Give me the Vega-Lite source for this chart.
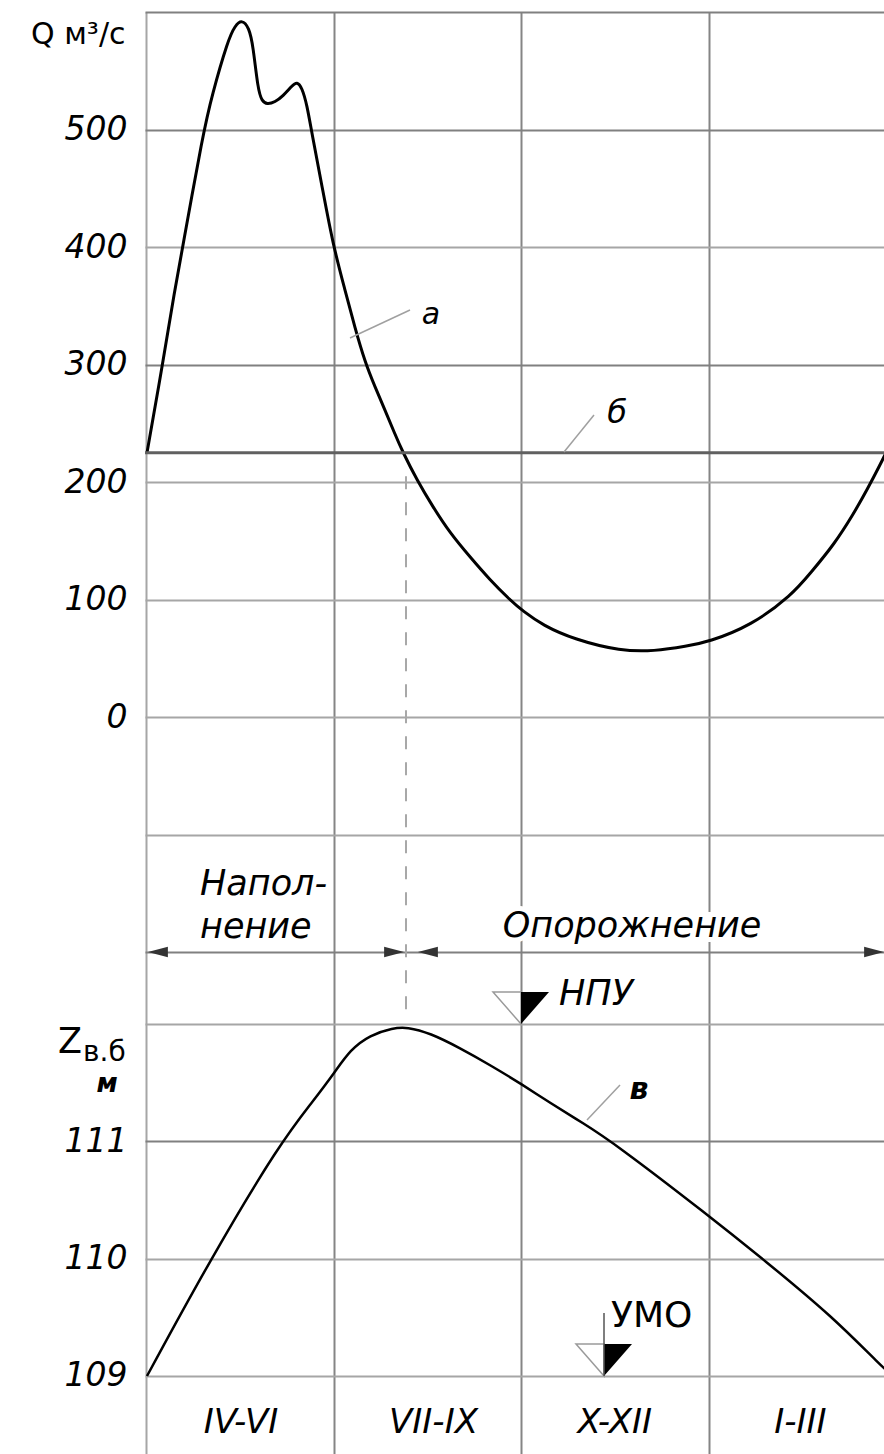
{
  "$schema": "https://vega.github.io/schema/vega-lite/v6.json",
  "width": 739,
  "height": 1442,
  "autosize": {"type": "none"},
  "padding": {"left": 145, "top": 12, "right": 0, "bottom": 0},
  "background": "white",
  "config": {
    "view": {"stroke": null},
    "font": "DejaVu Sans",
    "axis": {"labelFont": "DejaVu Sans", "titleFont": "DejaVu Sans"}
  },
  "datasets": {
    "inflow": [
      {"m": 0.016, "q": 225}, {"m": 0.272, "q": 302.1}, {"m": 0.432, "q": 354.9}, {"m": 0.592, "q": 401.7},
      {"m": 0.912, "q": 496.2}, {"m": 1.056, "q": 529.4}, {"m": 1.312, "q": 576.2}, {"m": 1.424, "q": 588.4},
      {"m": 1.536, "q": 593.6}, {"m": 1.648, "q": 586.7}, {"m": 1.712, "q": 571.9}, {"m": 1.792, "q": 533.6},
      {"m": 1.856, "q": 524.1}, {"m": 1.936, "q": 521.4}, {"m": 2.064, "q": 523.3}, {"m": 2.192, "q": 528.5},
      {"m": 2.336, "q": 537.2}, {"m": 2.416, "q": 540.9}, {"m": 2.496, "q": 535.6}, {"m": 2.576, "q": 520.9},
      {"m": 2.656, "q": 496.2}, {"m": 2.816, "q": 451.9}, {"m": 2.992, "q": 401.7}, {"m": 3.184, "q": 363.4},
      {"m": 3.344, "q": 331.1}, {"m": 3.504, "q": 302.1}, {"m": 3.664, "q": 280.9}, {"m": 3.824, "q": 261.3},
      {"m": 3.968, "q": 242.6}, {"m": 4.112, "q": 225}, {"m": 4.336, "q": 201.7}, {"m": 4.592, "q": 178.7},
      {"m": 4.864, "q": 156.6}, {"m": 5.184, "q": 136.2}, {"m": 5.504, "q": 116.6}, {"m": 5.824, "q": 99.6},
      {"m": 6.032, "q": 90.1}, {"m": 6.352, "q": 78.0}, {"m": 6.848, "q": 66.1}, {"m": 7.6, "q": 56.0},
      {"m": 8.128, "q": 56.0}, {"m": 8.656, "q": 60.3}, {"m": 8.992, "q": 63.8}, {"m": 9.68, "q": 77.7},
      {"m": 10.336, "q": 103.8}, {"m": 10.64, "q": 123.1}, {"m": 11.008, "q": 146.7}, {"m": 11.328, "q": 173.6},
      {"m": 11.536, "q": 193.2}, {"m": 11.76, "q": 216.2}, {"m": 11.84, "q": 225}
    ],
    "level": [
      {"m": 0.016, "z": 109.0}, {"m": 1.024, "z": 109.989}, {"m": 2.144, "z": 110.986}, {"m": 2.688, "z": 111.352},
      {"m": 3.024, "z": 111.591}, {"m": 3.264, "z": 111.778}, {"m": 3.584, "z": 111.906}, {"m": 3.952, "z": 111.966},
      {"m": 4.176, "z": 111.974}, {"m": 4.544, "z": 111.923}, {"m": 5.024, "z": 111.795}, {"m": 5.504, "z": 111.651},
      {"m": 6.032, "z": 111.48}, {"m": 6.464, "z": 111.327}, {"m": 6.992, "z": 111.156}, {"m": 7.488, "z": 110.986},
      {"m": 8.992, "z": 110.372}, {"m": 9.888, "z": 109.989}, {"m": 10.99, "z": 109.503}, {"m": 11.776, "z": 109.077},
      {"m": 11.952, "z": 109.0}
    ],
    "periods": [
      {"period": "IV-VI", "mid": 1.52},
      {"period": "VII-IX", "mid": 4.6},
      {"period": "X-XII", "mid": 7.5},
      {"period": "I-III", "mid": 10.47}
    ],
    "arrows": [
      {"m": 0.03, "dir": "left"},
      {"m": 4.13, "dir": "right"},
      {"m": 4.35, "dir": "left"},
      {"m": 11.81, "dir": "right"}
    ],
    "gauges": [
      {"name": "НПУ", "m": 6.0, "z": 112},
      {"name": "УМО", "m": 7.328, "z": 109}
    ],
    "one": [{}]
  },
  "layer": [
    {
      "layer": [
        {
          "data": {"name": "inflow"},
          "mark": {"type": "line", "color": "black", "strokeWidth": 3, "interpolate": "basis"},
          "encoding": {
            "x": {
              "field": "m", "type": "quantitative",
              "scale": {"domain": [-0.016, 11.808], "nice": false, "zero": false},
              "axis": {
                "orient": "bottom", "values": [0, 3, 6, 9], "grid": true, "gridWidth": 2,
                "gridColor": {"condition": {"test": "datum.value === 0", "value": "#a6a6a6"}, "value": "#858585"},
                "labels": false, "ticks": false, "domain": false, "title": null
              }
            },
            "y": {
              "field": "q", "type": "quantitative",
              "scale": {"domain": [-627.2, 600], "nice": false, "zero": false},
              "axis": {
                "orient": "left",
                "values": [-200, -100, 0, 100, 200, 300, 400, 500, 600],
                "format": "d",
                "labelExpr": "datum.value >= 0 && datum.value <= 500 ? datum.label : ''",
                "grid": true, "gridWidth": 2,
                "gridColor": {"condition": {"test": "datum.value === 600 || datum.value === 500 || datum.value === 300 || datum.value === -200", "value": "#808080"}, "value": "#a6a6a6"},
                "ticks": false, "domain": false,
                "labelPadding": 18, "labelFontSize": 33, "labelFontStyle": "italic", "labelColor": "black",
                "title": "Q м³/с", "titleAngle": 0, "titleAlign": "right", "titleBaseline": "alphabetic",
                "titleX": -20, "titleY": 31, "titleFontSize": 30, "titleFontWeight": "normal", "titleColor": "black"
              }
            }
          }
        },
        {
          "data": {"name": "one"},
          "mark": {"type": "rule", "color": "#606060", "strokeWidth": 3},
          "encoding": {
            "y": {"datum": 225, "type": "quantitative", "scale": {"domain": [-627.2, 600], "nice": false, "zero": false}}
          }
        },
        {
          "data": {"name": "one"},
          "mark": {"type": "rule", "color": "#a8a8a8", "strokeWidth": 2, "strokeDash": [13, 13]},
          "encoding": {
            "x": {"datum": 4.16, "type": "quantitative", "scale": {"domain": [-0.016, 11.808], "nice": false, "zero": false}},
            "y": {"datum": 205, "type": "quantitative", "scale": {"domain": [-627.2, 600], "nice": false, "zero": false}},
            "y2": {"datum": -253.6}
          }
        },
        {
          "data": {"name": "arrows"},
          "mark": {"type": "point", "size": 1600, "filled": true, "color": "#333333", "opacity": 1},
          "encoding": {
            "x": {"field": "m", "type": "quantitative", "scale": {"domain": [-0.016, 11.808], "nice": false, "zero": false}},
            "y": {"datum": -200, "type": "quantitative", "scale": {"domain": [-627.2, 600], "nice": false, "zero": false}},
            "shape": {
              "field": "dir", "type": "nominal", "legend": null,
              "scale": {"domain": ["left", "right"], "range": ["M0,0L1,-0.26L1,0.26Z", "M0,0L-1,-0.26L-1,0.26Z"]}
            }
          }
        },
        {
          "data": {"name": "one"},
          "mark": {"type": "text", "font": "DejaVu Sans", "fontStyle": "italic", "fontSize": 35, "align": "left", "baseline": "alphabetic", "lineHeight": 43, "color": "black"},
          "encoding": {
            "x": {"datum": 0.864, "type": "quantitative", "scale": {"domain": [-0.016, 11.808], "nice": false, "zero": false}},
            "y": {"datum": -151.5, "type": "quantitative", "scale": {"domain": [-627.2, 600], "nice": false, "zero": false}},
            "text": {"value": ["Напол-", "нение"]}
          }
        },
        {
          "data": {"name": "one"},
          "mark": {"type": "text", "font": "DejaVu Sans", "fontStyle": "italic", "fontSize": 35, "align": "center", "baseline": "alphabetic", "fill": "white", "stroke": "white", "strokeWidth": 10},
          "encoding": {
            "x": {"datum": 7.776, "type": "quantitative", "scale": {"domain": [-0.016, 11.808], "nice": false, "zero": false}},
            "y": {"datum": -187.2, "type": "quantitative", "scale": {"domain": [-627.2, 600], "nice": false, "zero": false}},
            "text": {"value": "Опорожнение"}
          }
        },
        {
          "data": {"name": "one"},
          "mark": {"type": "text", "font": "DejaVu Sans", "fontStyle": "italic", "fontSize": 35, "align": "center", "baseline": "alphabetic", "color": "black"},
          "encoding": {
            "x": {"datum": 7.776, "type": "quantitative", "scale": {"domain": [-0.016, 11.808], "nice": false, "zero": false}},
            "y": {"datum": -187.2, "type": "quantitative", "scale": {"domain": [-627.2, 600], "nice": false, "zero": false}},
            "text": {"value": "Опорожнение"}
          }
        },
        {
          "data": {"name": "one"},
          "mark": {"type": "rule", "color": "#a0a0a0", "strokeWidth": 1.5},
          "encoding": {
            "x": {"datum": 3.264, "type": "quantitative", "scale": {"domain": [-0.016, 11.808], "nice": false, "zero": false}},
            "x2": {"datum": 4.224},
            "y": {"datum": 322.6, "type": "quantitative", "scale": {"domain": [-627.2, 600], "nice": false, "zero": false}},
            "y2": {"datum": 346.4}
          }
        },
        {
          "data": {"name": "one"},
          "mark": {"type": "text", "font": "DejaVu Sans", "fontStyle": "italic", "fontSize": 30, "align": "center", "baseline": "middle", "color": "black"},
          "encoding": {
            "x": {"datum": 4.56, "type": "quantitative", "scale": {"domain": [-0.016, 11.808], "nice": false, "zero": false}},
            "y": {"datum": 342.1, "type": "quantitative", "scale": {"domain": [-627.2, 600], "nice": false, "zero": false}},
            "text": {"value": "а"}
          }
        },
        {
          "data": {"name": "one"},
          "mark": {"type": "rule", "color": "#a0a0a0", "strokeWidth": 1.5},
          "encoding": {
            "x": {"datum": 6.688, "type": "quantitative", "scale": {"domain": [-0.016, 11.808], "nice": false, "zero": false}},
            "x2": {"datum": 7.168},
            "y": {"datum": 225.5, "type": "quantitative", "scale": {"domain": [-627.2, 600], "nice": false, "zero": false}},
            "y2": {"datum": 257.0}
          }
        },
        {
          "data": {"name": "one"},
          "mark": {"type": "text", "font": "DejaVu Sans", "fontStyle": "italic", "fontSize": 32, "align": "center", "baseline": "middle", "color": "black"},
          "encoding": {
            "x": {"datum": 7.536, "type": "quantitative", "scale": {"domain": [-0.016, 11.808], "nice": false, "zero": false}},
            "y": {"datum": 258.7, "type": "quantitative", "scale": {"domain": [-627.2, 600], "nice": false, "zero": false}},
            "text": {"value": "б"}
          }
        }
      ]
    },
    {
      "layer": [
        {
          "data": {"name": "level"},
          "mark": {"type": "line", "color": "black", "strokeWidth": 2.5, "interpolate": "basis"},
          "encoding": {
            "x": {"field": "m", "type": "quantitative", "scale": {"domain": [-0.016, 11.808], "nice": false, "zero": false}},
            "y": {
              "field": "z", "type": "quantitative",
              "scale": {"domain": [108.335, 120.625], "nice": false, "zero": false},
              "axis": {
                "orient": "left", "values": [109, 110, 111, 112],
                "format": "d",
                "labelExpr": "datum.value <= 111 ? datum.label : ''",
                "grid": true, "gridWidth": 2,
                "gridColor": {"condition": {"test": "datum.value === 111", "value": "#808080"}, "value": "#a6a6a6"},
                "ticks": false, "domain": false,
                "labelPadding": 18, "labelFontSize": 33, "labelFontStyle": "italic", "labelColor": "black",
                "title": null
              }
            }
          }
        },
        {
          "data": {"name": "periods"},
          "mark": {"type": "text", "font": "DejaVu Sans", "fontStyle": "italic", "fontSize": 34, "align": "center", "baseline": "alphabetic", "color": "black"},
          "encoding": {
            "x": {"field": "mid", "type": "quantitative", "scale": {"domain": [-0.016, 11.808], "nice": false, "zero": false}},
            "y": {"datum": 108.514, "type": "quantitative", "scale": {"domain": [108.335, 120.625], "nice": false, "zero": false}},
            "text": {"field": "period"}
          }
        },
        {
          "data": {"name": "gauges"},
          "mark": {"type": "point", "shape": "M0,0L0,-1L-0.875,-1Z", "size": 4096, "filled": true, "fill": "white", "stroke": "#9a9a9a", "strokeWidth": 1.5, "opacity": 1},
          "encoding": {
            "x": {"field": "m", "type": "quantitative", "scale": {"domain": [-0.016, 11.808], "nice": false, "zero": false}},
            "y": {"field": "z", "type": "quantitative", "scale": {"domain": [108.335, 120.625], "nice": false, "zero": false}}
          }
        },
        {
          "data": {"name": "gauges"},
          "mark": {"type": "point", "shape": "M0,0L0,-1L0.875,-1Z", "size": 4096, "filled": true, "color": "black", "opacity": 1},
          "encoding": {
            "x": {"field": "m", "type": "quantitative", "scale": {"domain": [-0.016, 11.808], "nice": false, "zero": false}},
            "y": {"field": "z", "type": "quantitative", "scale": {"domain": [108.335, 120.625], "nice": false, "zero": false}}
          }
        },
        {
          "data": {"name": "one"},
          "mark": {"type": "rule", "color": "#555555", "strokeWidth": 1.5},
          "encoding": {
            "x": {"datum": 7.328, "type": "quantitative", "scale": {"domain": [-0.016, 11.808], "nice": false, "zero": false}},
            "y": {"datum": 109, "type": "quantitative", "scale": {"domain": [108.335, 120.625], "nice": false, "zero": false}},
            "y2": {"datum": 109.537}
          }
        },
        {
          "data": {"name": "one"},
          "mark": {"type": "text", "font": "DejaVu Sans", "fontStyle": "italic", "fontSize": 35, "align": "left", "baseline": "alphabetic", "color": "black"},
          "encoding": {
            "x": {"datum": 6.608, "type": "quantitative", "scale": {"domain": [-0.016, 11.808], "nice": false, "zero": false}},
            "y": {"datum": 112.162, "type": "quantitative", "scale": {"domain": [108.335, 120.625], "nice": false, "zero": false}},
            "text": {"value": "НПУ"}
          }
        },
        {
          "data": {"name": "one"},
          "mark": {"type": "text", "font": "DejaVu Sans", "fontSize": 36, "align": "left", "baseline": "alphabetic", "color": "black"},
          "encoding": {
            "x": {"datum": 7.44, "type": "quantitative", "scale": {"domain": [-0.016, 11.808], "nice": false, "zero": false}},
            "y": {"datum": 109.418, "type": "quantitative", "scale": {"domain": [108.335, 120.625], "nice": false, "zero": false}},
            "text": {"value": "УМО"}
          }
        },
        {
          "data": {"name": "one"},
          "mark": {"type": "rule", "color": "#a0a0a0", "strokeWidth": 1.5},
          "encoding": {
            "x": {"datum": 7.056, "type": "quantitative", "scale": {"domain": [-0.016, 11.808], "nice": false, "zero": false}},
            "x2": {"datum": 7.584},
            "y": {"datum": 111.182, "type": "quantitative", "scale": {"domain": [108.335, 120.625], "nice": false, "zero": false}},
            "y2": {"datum": 111.48}
          }
        },
        {
          "data": {"name": "one"},
          "mark": {"type": "text", "font": "DejaVu Sans", "fontStyle": "italic", "fontWeight": "bold", "fontSize": 30, "align": "center", "baseline": "middle", "color": "black"},
          "encoding": {
            "x": {"datum": 7.888, "type": "quantitative", "scale": {"domain": [-0.016, 11.808], "nice": false, "zero": false}},
            "y": {"datum": 111.438, "type": "quantitative", "scale": {"domain": [108.335, 120.625], "nice": false, "zero": false}},
            "text": {"value": "в"}
          }
        },
        {
          "data": {"name": "one"},
          "mark": {"type": "text", "font": "DejaVu Sans", "fontSize": 35, "align": "center", "baseline": "alphabetic", "color": "black"},
          "encoding": {
            "x": {"datum": -1.216, "type": "quantitative", "scale": {"domain": [-0.016, 11.808], "nice": false, "zero": false}},
            "y": {"datum": 111.753, "type": "quantitative", "scale": {"domain": [108.335, 120.625], "nice": false, "zero": false}},
            "text": {"value": "Z"}
          }
        },
        {
          "data": {"name": "one"},
          "mark": {"type": "text", "font": "DejaVu Sans", "fontSize": 28, "align": "left", "baseline": "alphabetic", "color": "black"},
          "encoding": {
            "x": {"datum": -1.008, "type": "quantitative", "scale": {"domain": [-0.016, 11.808], "nice": false, "zero": false}},
            "y": {"datum": 111.685, "type": "quantitative", "scale": {"domain": [108.335, 120.625], "nice": false, "zero": false}},
            "text": {"value": "в.б"}
          }
        },
        {
          "data": {"name": "one"},
          "mark": {"type": "text", "font": "DejaVu Sans", "fontStyle": "italic", "fontWeight": "bold", "fontSize": 26, "align": "center", "baseline": "alphabetic", "color": "black"},
          "encoding": {
            "x": {"datum": -0.624, "type": "quantitative", "scale": {"domain": [-0.016, 11.808], "nice": false, "zero": false}},
            "y": {"datum": 111.42, "type": "quantitative", "scale": {"domain": [108.335, 120.625], "nice": false, "zero": false}},
            "text": {"value": "м"}
          }
        }
      ]
    }
  ],
  "resolve": {"scale": {"y": "independent"}}
}
